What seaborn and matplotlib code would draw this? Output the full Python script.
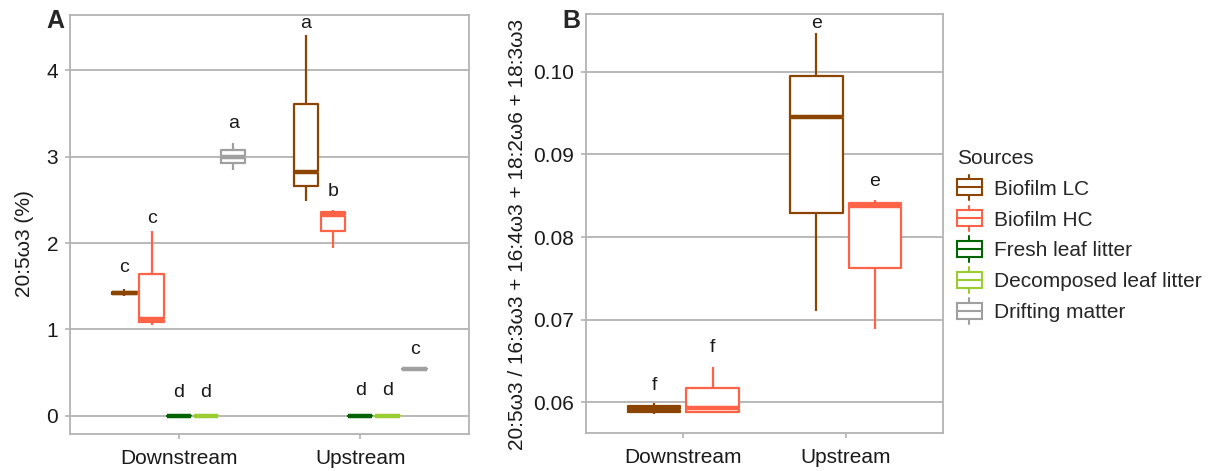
import numpy as np
import pandas as pd
import matplotlib
matplotlib.use("Agg")
import matplotlib.pyplot as plt
import seaborn as sns
from matplotlib.legend_handler import HandlerBase
from matplotlib.lines import Line2D
from matplotlib.patches import Rectangle

sns.set_theme(style="white")
plt.rcParams['font.family'] = ['Liberation Sans', 'DejaVu Sans']

sites = ["Downstream", "Upstream"]
sources = ["Biofilm LC", "Biofilm HC", "Fresh leaf litter", "Decomposed leaf litter", "Drifting matter"]
colors = ["#8B4500", "#FF6347", "#006400", "#9ACD32", "#A0A0A0"]

# panel A: 20:5w3 (%) -- five values per box (min, q1, median, q3, max)
a_down_lc = [1.39, 1.41, 1.42, 1.43, 1.47]
a_down_hc = [1.05, 1.09, 1.12, 1.64, 2.14]
a_down_fresh = [0.0, 0.0, 0.0, 0.0, 0.0]
a_down_decomp = [0.0, 0.0, 0.0, 0.0, 0.0]
a_down_drift = [2.85, 2.93, 3.00, 3.08, 3.16]
a_up_lc = [2.49, 2.66, 2.82, 3.61, 4.41]
a_up_hc = [1.94, 2.14, 2.33, 2.36, 2.38]
a_up_fresh = [0.0, 0.0, 0.0, 0.0, 0.0]
a_up_decomp = [0.0, 0.0, 0.0, 0.0, 0.0]
a_up_drift = [0.535, 0.538, 0.54, 0.542, 0.545]

# panel B: 20:5w3 / (16:3w3 + 16:4w3 + 18:2w6 + 18:3w3)
b_down_lc = [0.0586, 0.0588, 0.0592, 0.0596, 0.0599]
b_down_hc = [0.0587, 0.0589, 0.0593, 0.0618, 0.0643]
b_up_lc = [0.0711, 0.0829, 0.0945, 0.0995, 0.1047]
b_up_hc = [0.0689, 0.0762, 0.0837, 0.0841, 0.0845]

# significance letters and their heights
letters_a_down = ["c", "c", "d", "d", "a"]
letters_a_down_y = [1.72, 2.28, 0.27, 0.27, 3.38]
letters_a_up = ["a", "b", "d", "d", "c"]
letters_a_up_y = [4.54, 2.60, 0.29, 0.29, 0.77]
letters_b_down = ["f", "f"]
letters_b_down_y = [0.0621, 0.0667]
letters_b_up = ["e", "e"]
letters_b_up_y = [0.1058, 0.0867]

pal = dict(zip(sources, colors))
FS = 15


def long_frame(boxes):
    rows = []
    for site, src, vals in boxes:
        for v in vals:
            rows.append({"site": site, "source": src, "value": v})
    return pd.DataFrame(rows)


df_a = long_frame([
    ("Downstream", sources[0], a_down_lc), ("Downstream", sources[1], a_down_hc),
    ("Downstream", sources[2], a_down_fresh), ("Downstream", sources[3], a_down_decomp),
    ("Downstream", sources[4], a_down_drift),
    ("Upstream", sources[0], a_up_lc), ("Upstream", sources[1], a_up_hc),
    ("Upstream", sources[2], a_up_fresh), ("Upstream", sources[3], a_up_decomp),
    ("Upstream", sources[4], a_up_drift),
])
df_b = long_frame([
    ("Downstream", sources[0], b_down_lc), ("Downstream", sources[1], b_down_hc),
    ("Upstream", sources[0], b_up_lc), ("Upstream", sources[1], b_up_hc),
])


def draw_boxes(ax, df, hue_order, width):
    # white filled boxes underneath, coloured outlines on top (ggplot look)
    sns.boxplot(data=df, x="site", y="value", hue="source", order=sites, hue_order=hue_order,
                palette={s: "white" for s in hue_order}, fill=True, linecolor="white",
                width=width, gap=0.1, whis=(0, 100), showcaps=False, showfliers=False,
                linewidth=0.5, legend=False, ax=ax)
    sns.boxplot(data=df, x="site", y="value", hue="source", order=sites, hue_order=hue_order,
                palette=pal, fill=False, width=width, gap=0.1, whis=(0, 100),
                showcaps=False, showfliers=False, linewidth=1.6,
                medianprops={"linewidth": 3.2}, legend=False, ax=ax)


def add_letters(ax, site_idx, letters, heights, n, width):
    for j, (lab, y) in enumerate(zip(letters, heights)):
        x = site_idx + (j - (n - 1) / 2) * width / n
        ax.text(x, y, lab, ha="center", va="center", fontsize=14, color="#1A1A1A")


def style(ax):
    ax.set_axisbelow(True)
    ax.yaxis.grid(True, color="#B3B3B3", lw=1.3)
    ax.xaxis.grid(False)
    for sp in ax.spines.values():
        sp.set_color("#B3B3B3")
        sp.set_linewidth(1.3)
    ax.tick_params(axis="both", length=3.5, width=1.2, color="#B3B3B3",
                   labelsize=FS, labelcolor="#1A1A1A", pad=5, bottom=True, left=True)
    ax.tick_params(axis="x", pad=7)
    ax.set_xlabel("")
    ax.set_xlim(-0.6, 1.6)


fig = plt.figure(figsize=(12.16, 4.71), dpi=100)
axA = fig.add_axes([70 / 1216, 37 / 471, 399 / 1216, 419 / 471])
axB = fig.add_axes([586 / 1216, 38 / 471, 357 / 1216, 419 / 471])

draw_boxes(axA, df_a, sources, 0.75)
add_letters(axA, 0, letters_a_down, letters_a_down_y, 5, 0.75)
add_letters(axA, 1, letters_a_up, letters_a_up_y, 5, 0.75)
style(axA)
axA.set_ylim(-0.21, 4.64)
axA.set_yticks([0, 1, 2, 3, 4])
axA.set_ylabel("20:5ω3 (%)", fontsize=FS, color="#1A1A1A")
axA.yaxis.set_label_coords(-0.09, 0.455)

draw_boxes(axB, df_b, sources[:2], 0.72)
add_letters(axB, 0, letters_b_down, letters_b_down_y, 2, 0.72)
add_letters(axB, 1, letters_b_up, letters_b_up_y, 2, 0.72)
style(axB)
axB.set_ylim(0.0563, 0.10697)
axB.set_yticks([0.06, 0.07, 0.08, 0.09, 0.10])
axB.set_yticklabels(["0.06", "0.07", "0.08", "0.09", "0.10"])
axB.set_ylabel("20:5ω3 / 16:3ω3 + 16:4ω3 + 18:2ω6 + 18:3ω3", fontsize=FS, color="#1A1A1A")
axB.yaxis.set_label_coords(-0.165, 0.473)

fig.text(46 / 1216, 1 - 21 / 471, "A", fontsize=18, fontweight="bold", va="center")
fig.text(562 / 1216, 1 - 21 / 471, "B", fontsize=18, fontweight="bold", va="center")


class BoxKey(HandlerBase):
    def create_artists(self, legend, orig_handle, xdescent, ydescent, width, height,
                       fontsize, trans):
        c = orig_handle.get_color()
        x0, y0 = -xdescent, -ydescent
        cx = x0 + width / 2
        whisk = Line2D([cx, cx], [y0 - 0.3 * height, y0 + 1.3 * height], color=c, lw=1.5,
                       transform=trans)
        box = Rectangle((x0, y0), width, height, facecolor="white", edgecolor=c, lw=1.5,
                        transform=trans)
        med = Line2D([x0, x0 + width], [y0 + height / 2] * 2, color=c, lw=1.5, transform=trans)
        return [whisk, box, med]


handles = [Line2D([], [], color=c) for c in colors]
fig.legend(handles, sources, handler_map={Line2D: BoxKey()}, loc="upper left",
           bbox_to_anchor=(938 / 1216, 1 - 130 / 471), frameon=False, title="Sources",
           fontsize=FS, title_fontsize=FS, alignment="left", labelspacing=0.56,
           handlelength=1.2, handleheight=0.8, handletextpad=0.6)

fig.savefig("out.png", dpi=100)
